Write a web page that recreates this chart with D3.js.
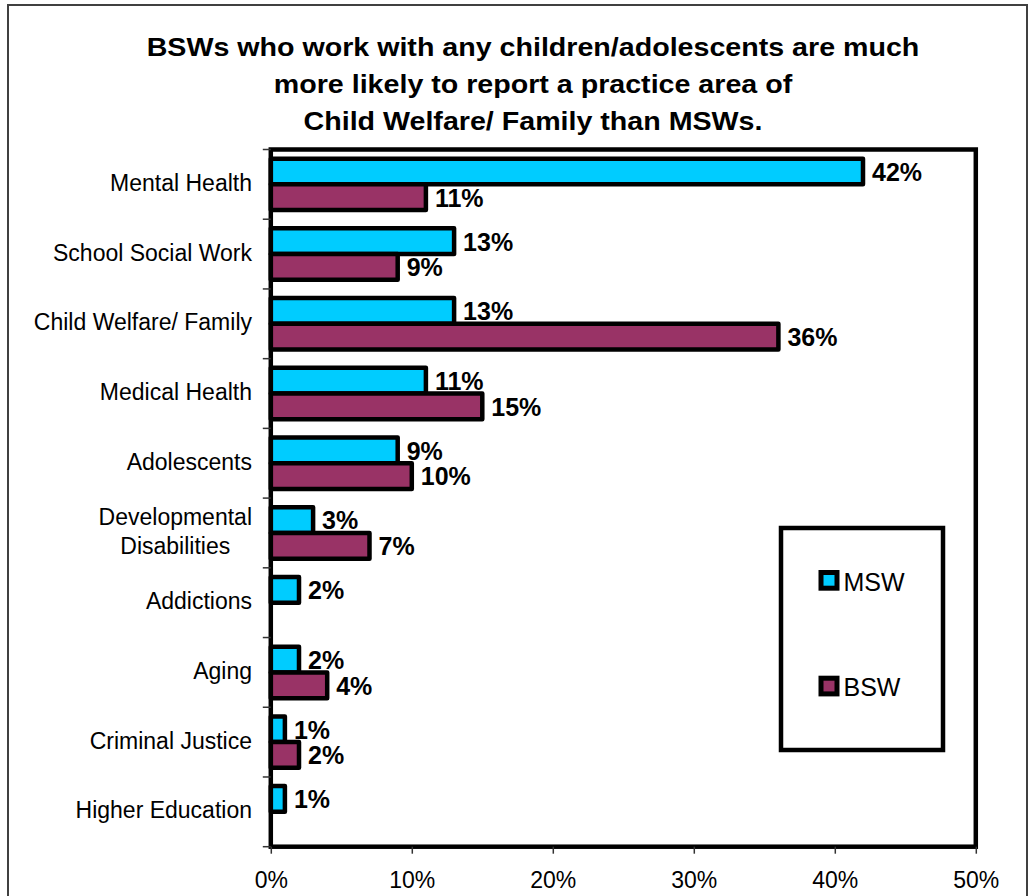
<!DOCTYPE html>
<html>
<head>
<meta charset="utf-8">
<script src="https://cdn.jsdelivr.net/npm/d3@7"></script>
<style>
  html, body { margin: 0; padding: 0; background: #fff; }
  svg { display: block; font-family: "Liberation Sans", Arial, Helvetica, sans-serif; }
</style>
</head>
<body>
<svg id="chart" width="1036" height="896"></svg>
<script>
// Practice areas reported by social workers who work with children/adolescents
const categories = [
  "Mental Health",
  "School Social Work",
  "Child Welfare/ Family",
  "Medical Health",
  "Adolescents",
  "Developmental Disabilities",
  "Addictions",
  "Aging",
  "Criminal Justice",
  "Higher Education"
];
const categoryLines = {
  "Developmental Disabilities": ["Developmental", "Disabilities"]
};
const seriesNames = ["MSW", "BSW"];
const mswValues = [42, 13, 13, 11, 9, 3, 2, 2, 1, 1];
const bswValues = [11, 9, 36, 15, 10, 7, null, 4, 2, null];
const xTickValues = [0, 10, 20, 30, 40, 50];
const titleLines = [
  "BSWs who work with any children/adolescents are much",
  "more likely to report a practice area of",
  "Child Welfare/ Family than MSWs."
];

const colors = { MSW: "#00CCFF", BSW: "#993366" };

const svg = d3.select("#chart");

// outer chart frame
svg.append("rect")
  .attr("x", 8).attr("y", 5)
  .attr("width", 1019).attr("height", 905)
  .attr("fill", "#fff")
  .attr("stroke", "#404040")
  .attr("stroke-width", 2);

// title
const titleG = svg.append("g")
  .attr("transform", "translate(533,0) scale(1.145,1)");
titleG.selectAll("text")
  .data(titleLines)
  .join("text")
  .attr("x", 0)
  .attr("y", (d, i) => 56 + i * 37)
  .attr("text-anchor", "middle")
  .attr("font-size", 25)
  .attr("font-weight", "bold")
  .attr("fill", "#000")
  .text(d => d);

// scales
const plot = { left: 270.8, right: 975.8, top: 149.5, bottom: 846.7 };
const x = d3.scaleLinear().domain([0, 50]).range([plot.left, plot.right]);
const y = d3.scaleBand().domain(categories).range([plot.top, plot.bottom]).padding(0);
const ySub = d3.scaleBand().domain(seriesNames)
  .range([0, y.bandwidth()])
  .paddingInner(0)
  .paddingOuter(0.355);

const rows = categories.map((c, i) => ({
  category: c,
  values: [
    { series: "MSW", value: mswValues[i] },
    { series: "BSW", value: bswValues[i] }
  ].filter(d => d.value != null)
}));

// bars
const barG = svg.append("g");
const groups = barG.selectAll("g")
  .data(rows)
  .join("g")
  .attr("transform", d => `translate(0,${y(d.category)})`);

groups.selectAll("rect")
  .data(d => d.values)
  .join("rect")
  .attr("x", x(0))
  .attr("y", d => ySub(d.series))
  .attr("width", d => x(d.value) - x(0))
  .attr("height", ySub.bandwidth())
  .attr("fill", d => colors[d.series])
  .attr("stroke", "#000")
  .attr("stroke-width", 4.5)
  .attr("stroke-linejoin", "round");

// value labels
groups.selectAll("text.value")
  .data(d => d.values)
  .join("text")
  .attr("class", "value")
  .attr("x", d => x(d.value) + 9)
  .attr("y", d => ySub(d.series) + ySub.bandwidth() / 2 + 9.3)
  .attr("font-size", 25)
  .attr("font-weight", "bold")
  .attr("fill", "#000")
  .text(d => d3.format(".0f")(d.value) + "%");

// plot area frame
svg.append("rect")
  .attr("x", plot.left).attr("y", plot.top)
  .attr("width", plot.right - plot.left)
  .attr("height", plot.bottom - plot.top)
  .attr("fill", "none")
  .attr("stroke", "#000")
  .attr("stroke-width", 4.5);

// category tick marks at band boundaries
const boundaries = categories.map(c => y(c)).concat([y.range()[1]]);
svg.append("g").selectAll("line")
  .data(boundaries)
  .join("line")
  .attr("x1", plot.left - 8).attr("x2", plot.left)
  .attr("y1", d => d).attr("y2", d => d)
  .attr("stroke", "#333")
  .attr("stroke-width", 1.5);

// category labels
const catG = svg.append("g");
categories.forEach(c => {
  const lines = categoryLines[c] || [c];
  const cy = y(c) + y.bandwidth() / 2;
  const n = lines.length;
  const texts = lines.map((line, i) =>
    catG.append("text")
      .attr("y", cy + 6.5 + (i - (n - 1) / 2) * 29)
      .attr("font-size", 23)
      .attr("fill", "#000")
      .text(line)
  );
  if (n === 1) {
    texts[0].attr("x", 252).attr("text-anchor", "end");
  } else {
    const w = d3.max(texts, t => t.node().getComputedTextLength());
    texts.forEach(t => t.attr("x", 252 - w / 2).attr("text-anchor", "middle"));
  }
});

// x axis
const xAxis = d3.axisBottom(x)
  .tickValues(xTickValues)
  .tickFormat(d => d + "%")
  .tickSize(7)
  .tickSizeOuter(0);
const xg = svg.append("g")
  .attr("transform", `translate(0,${plot.bottom})`)
  .call(xAxis);
xg.select(".domain").remove();
xg.selectAll(".tick line").attr("stroke", "#333").attr("stroke-width", 1.5);
xg.selectAll(".tick text")
  .attr("y", 41.6)
  .attr("dy", 0)
  .attr("font-size", 23)
  .attr("font-family", "\"Liberation Sans\", Arial, sans-serif")
  .attr("fill", "#000");

// legend
const legend = svg.append("g");
legend.append("rect")
  .attr("x", 781).attr("y", 528)
  .attr("width", 162).attr("height", 222)
  .attr("fill", "#fff")
  .attr("stroke", "#000")
  .attr("stroke-width", 4.5);
const legendRows = [
  { series: "MSW", y: 572.5, baseline: 590.7 },
  { series: "BSW", y: 678.2, baseline: 696 }
];
legend.selectAll("rect.key")
  .data(legendRows)
  .join("rect")
  .attr("class", "key")
  .attr("x", 821).attr("y", d => d.y)
  .attr("width", 16).attr("height", 15.7)
  .attr("fill", d => colors[d.series])
  .attr("stroke", "#000")
  .attr("stroke-width", 5);
legend.selectAll("text")
  .data(legendRows)
  .join("text")
  .attr("x", 843.5)
  .attr("y", d => d.baseline)
  .attr("font-size", 25)
  .attr("fill", "#000")
  .text(d => d.series);
</script>
</body>
</html>
